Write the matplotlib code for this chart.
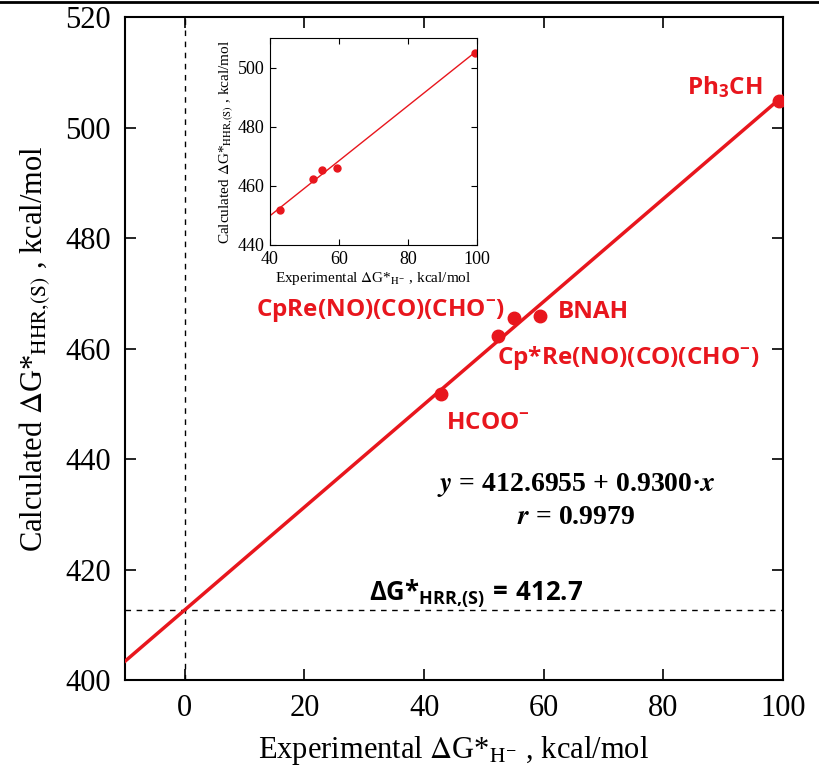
import matplotlib
matplotlib.use("Agg")
import matplotlib.pyplot as plt
from matplotlib.lines import Line2D
import numpy as np

# data
names = ["HCOO$^{\\mathbf{-}}$", "Cp*Re(NO)(CO)(CHO$^{\\mathbf{-}}$)", "CpRe(NO)(CO)(CHO$^{\\mathbf{-}}$)", "BNAH", "Ph$_{\\mathbf{3}}$CH"]
exp_dg = [42.9, 52.4, 55.1, 59.3, 99.4]
calc_dg = [451.8, 462.3, 465.5, 465.9, 504.8]
intercept = 412.6955
slope = 0.9300
r_val = 0.9979
x_ticks = [0, 20, 40, 60, 80, 100]
y_ticks = [400, 420, 440, 460, 480, 500, 520]
inset_x_ticks = [40, 60, 80, 100]
inset_y_ticks = [440, 460, 480, 500]

red = "#e8161d"
plt.rcParams["mathtext.fontset"] = "custom"
plt.rcParams["mathtext.rm"] = "Open Sans"
plt.rcParams["mathtext.bf"] = "Open Sans:bold"
plt.rcParams["mathtext.it"] = "Open Sans:italic"

fig = plt.figure(figsize=(8.19, 7.74), dpi=100)
ax = fig.add_axes([0.1526, 0.1214, 0.8034, 0.8566])

xs = np.array([-10, 100])
ax.plot(xs, intercept + slope * xs, color=red, lw=2.5, zorder=3)
ax.plot(exp_dg, calc_dg, "o", color=red, ms=9, zorder=4)
ax.axvline(0, color="black", lw=1, ls=(0, (4, 4)))
ax.axhline(intercept, color="black", lw=1, ls=(0, (4, 4)))

ax.set_xlim(-10, 100)
ax.set_ylim(400, 520)
ax.set_xticks(x_ticks)
ax.set_yticks(y_ticks)
ax.tick_params(direction="in", length=8, width=1.2, top=True, right=True, labelsize=22, pad=10)
for lab in ax.get_xticklabels() + ax.get_yticklabels():
    lab.set_fontfamily("Liberation Serif")
for s in ax.spines.values():
    s.set_linewidth(1.5)

ax.set_xlabel(r"Experimental $\Delta$G*$_{\mathrm{H}^{\mathrm{-}}}$ , kcal/mol",
              fontfamily="Liberation Serif", math_fontfamily="stix", fontsize=22, labelpad=8)
ax.set_ylabel(r"Calculated $\Delta$G*$_{\mathrm{HHR{,}(S)}}$ , kcal/mol",
              fontfamily="Liberation Serif", math_fontfamily="stix", fontsize=22, labelpad=10)

# point labels
lab_kw = dict(color=red, fontsize=17.5, fontweight="bold", fontfamily="Open Sans")
ax.text(43.7, 446.5, names[0], ha="left", va="center", **lab_kw)
ax.text(52.2, 458.2, names[1], ha="left", va="center", **lab_kw)
ax.text(53.5, 466.9, names[2], ha="right", va="center", **lab_kw)
ax.text(62.3, 466.7, names[3], ha="left", va="center", **lab_kw)
ax.text(96.5, 507.3, names[4], ha="right", va="center", **lab_kw)

eq_kw = dict(ha="center", va="center", fontsize=20, fontweight="bold",
             fontfamily="Liberation Serif", math_fontfamily="stix")
ax.text(65.5, 435.3, r"$\mathbfit{y}$ = %.4f + %.4f·$\mathbfit{x}$" % (intercept, slope), **eq_kw)
ax.text(65.5, 429.5, r"$\mathbfit{r}$ = %.4f" % r_val, **eq_kw)
ax.text(30.8, 415.8, r"$\mathbf{\Delta G{*}}_{\mathbf{HRR{,}(S)}}\,\mathbf{=}\,\mathbf{%.1f}$" % intercept,
        ha="left", va="center", fontsize=18.5)

# inset
ins = fig.add_axes([0.3297, 0.6835, 0.2527, 0.2674])
xi = np.array([40, 100])
ins.plot(xi, intercept + slope * xi, color=red, lw=1)
ins.plot(exp_dg, calc_dg, "o", color=red, ms=5)
ins.set_xlim(40, 100)
ins.set_ylim(440, 510)
ins.set_xticks(inset_x_ticks)
ins.set_yticks(inset_y_ticks)
ins.tick_params(direction="in", length=4, width=0.8, top=True, right=True, labelsize=13, pad=4)
for lab in ins.get_xticklabels() + ins.get_yticklabels():
    lab.set_fontfamily("Liberation Serif")
for s in ins.spines.values():
    s.set_linewidth(0.8)
ins.set_xlabel(r"Experimental $\Delta$G*$_{\mathrm{H}^{\mathrm{-}}}$ , kcal/mol",
               fontfamily="Liberation Serif", math_fontfamily="stix", fontsize=11, labelpad=2)
ins.set_ylabel(r"Calculated $\Delta$G*$_{\mathrm{HHR{,}(S)}}$ , kcal/mol",
               fontfamily="Liberation Serif", math_fontfamily="stix", fontsize=11, labelpad=2)

fig.add_artist(Line2D([0, 1], [0.998, 0.998], color="black", lw=2, transform=fig.transFigure))

fig.savefig("out.png", dpi=100)
